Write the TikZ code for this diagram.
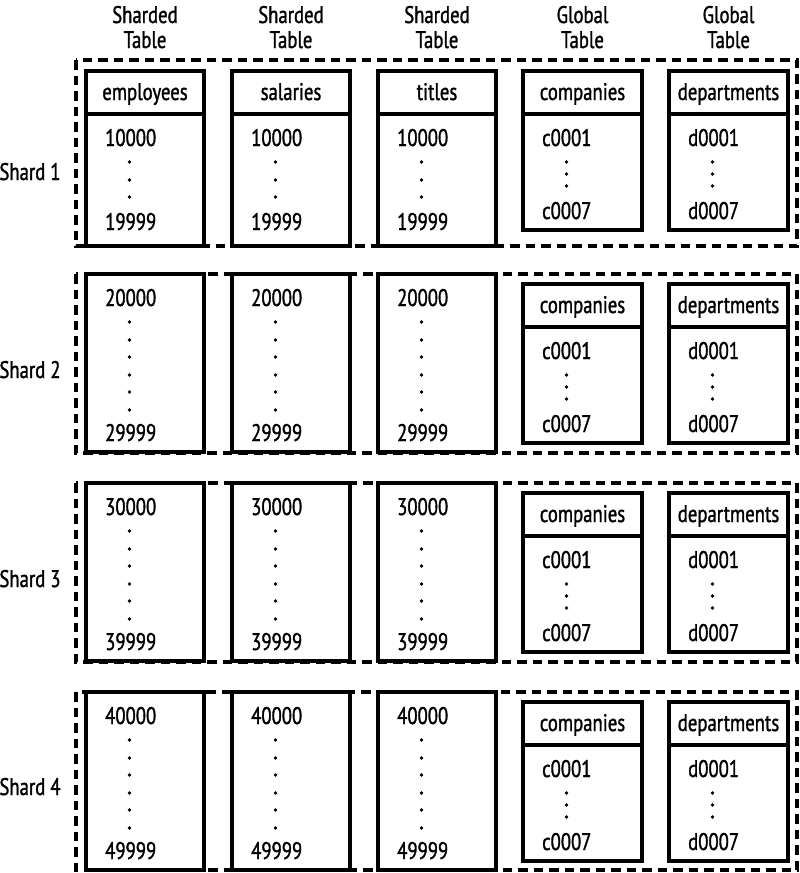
\documentclass[tikz,border=0pt]{standalone}
\usepackage{fontspec}
\setmainfont{PT Sans}[FakeStretch=0.78,FakeBold=1.3]
\begin{document}
\begin{tikzpicture}[x=1pt,y=-1pt,
  box/.style={draw=black, line width=3.3pt, fill=white},
  rule/.style={draw=black, line width=3.3pt},
  shard/.style={draw=black, line width=3.4pt, dash pattern=on 9.5pt off 6pt},
  txt/.style={font=\fontsize{24}{28}\selectfont, inner sep=0pt, text=black}]
\useasboundingbox (0,0) rectangle (800,873);
% column labels
\foreach \n/\x/\a in {c1/145/Sharded, c2/291/Sharded, c3/437/Sharded, c4/582.5/Global, c5/728.5/Global}{
  \node[txt, anchor=base] (\n-a) at (\x,23) {\a};
  \node[txt, anchor=base] (\n-b) at (\x,48) {Table};
}
% shard frames and labels
\foreach \s/\top/\bot/\ly in {1/60/246/180, 2/274/453/378, 3/483/662/587, 4/692/870/795}{
  \draw[shard] (76,\top) rectangle (797,\bot);
  \node[txt, anchor=base] (shard\s) at (30,\ly) {Shard \s};
}
% shard 1 sharded tables
\foreach \c/\L/\h in {emp/86/employees, sal/232/salaries, tit/378/titles}{
  \draw[box] (\L,71) rectangle (\L+118,246);
  \draw[rule] (\L,114) -- (\L+118,114);
  \node[txt, anchor=base] (\c-1-h) at (\L+59,100) {\h};
  \node[txt, anchor=base west] (\c-1-lo) at (\L+19,146) {10000};
  \foreach \d in {162,180,197} \fill (\L+43.5,\d) circle (1.9);
  \node[txt, anchor=base west] (\c-1-hi) at (\L+19,230) {19999};
}
% shards 2-4 sharded tables
\foreach \s/\T/\lo/\hi in {2/274/20000/29999, 3/483/30000/39999, 4/692/40000/49999}{
  \foreach \c/\L in {emp/86, sal/232, tit/378}{
    \draw[box] (\L,\T) rectangle (\L+118,\T+178);
    \node[txt, anchor=base west] (\c-\s-lo) at (\L+19,\T+32) {\lo};
    \foreach \d in {48,66,83,101,118,136} \fill (\L+43.5,\T+\d) circle (1.9);
    \node[txt, anchor=base west] (\c-\s-hi) at (\L+19,\T+167) {\hi};
  }
}
% global tables
\foreach \s/\G in {1/71, 2/284, 3/493, 4/702}{
  \foreach \c/\L/\h/\p in {com/523/companies/c, dep/669/departments/d}{
    \draw[box] (\L,\G) rectangle (\L+119,\G+159);
    \draw[rule] (\L,\G+43) -- (\L+119,\G+43);
    \node[txt, anchor=base] (\c-\s-h) at (\L+59.5,\G+29) {\h};
    \node[txt, anchor=base west] (\c-\s-lo) at (\L+19,\G+75) {\p0001};
    \foreach \d in {91,103,115} \fill (\L+43.5,\G+\d) circle (1.9);
    \node[txt, anchor=base west] (\c-\s-hi) at (\L+19,\G+148) {\p0007};
  }
}
\end{tikzpicture}
\end{document}
